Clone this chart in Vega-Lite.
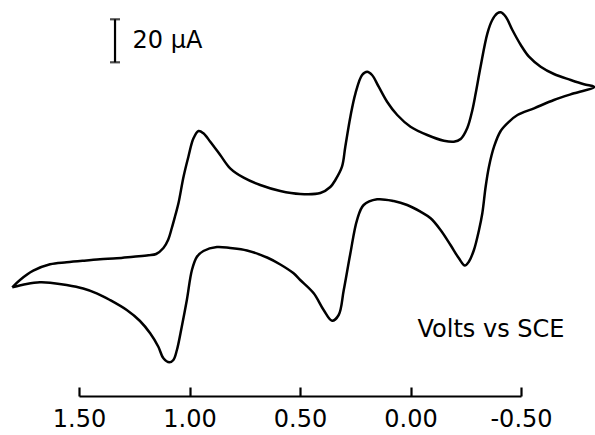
{
  "$schema": "https://vega.github.io/schema/vega-lite/v6.json",
  "width": 442,
  "height": 396,
  "autosize": {"type": "none"},
  "padding": {"left": 79, "top": 0, "right": 74, "bottom": 39},
  "background": "white",
  "config": {"view": {"stroke": null}},
  "datasets": {
    "cv": [
      {"i":1,"V":1.802,"I":-8.05},{"i":2,"V":1.767,"I":-4.65},{"i":3,"V":1.707,"I":-0.33},{"i":4,"V":1.631,"I":2.65},
      {"i":5,"V":1.556,"I":3.58},{"i":6,"V":1.481,"I":4.32},{"i":7,"V":1.405,"I":4.98},{"i":8,"V":1.329,"I":5.44},
      {"i":9,"V":1.254,"I":6.18},{"i":10,"V":1.186,"I":6.84},{"i":11,"V":1.151,"I":7.44},{"i":12,"V":1.118,"I":10.23},
      {"i":13,"V":1.097,"I":13.95},{"i":14,"V":1.080,"I":19.53},{"i":15,"V":1.065,"I":25.11},{"i":16,"V":1.050,"I":31.02},
      {"i":17,"V":1.027,"I":43.39},{"i":18,"V":1.005,"I":52.70},{"i":19,"V":0.982,"I":61.25},{"i":20,"V":0.959,"I":64.65},
      {"i":21,"V":0.937,"I":63.58},{"i":22,"V":0.906,"I":59.67},{"i":23,"V":0.861,"I":53.49},{"i":24,"V":0.816,"I":47.30},
      {"i":25,"V":0.755,"I":42.93},{"i":26,"V":0.680,"I":39.53},{"i":27,"V":0.589,"I":36.74},{"i":28,"V":0.499,"I":35.35},
      {"i":29,"V":0.408,"I":35.81},{"i":30,"V":0.363,"I":38.60},{"i":31,"V":0.340,"I":41.86},{"i":32,"V":0.310,"I":48.05},
      {"i":33,"V":0.295,"I":57.35},{"i":34,"V":0.272,"I":71.30},{"i":35,"V":0.249,"I":82.18},{"i":36,"V":0.219,"I":90.70},
      {"i":37,"V":0.196,"I":92.23},{"i":38,"V":0.174,"I":90.70},{"i":39,"V":0.144,"I":85.25},{"i":40,"V":0.106,"I":78.28},
      {"i":41,"V":0.060,"I":72.09},{"i":42,"V":0.000,"I":66.65},{"i":43,"V":-0.076,"I":62.79},{"i":44,"V":-0.151,"I":60.14},
      {"i":45,"V":-0.196,"I":59.67},{"i":46,"V":-0.227,"I":60.93},{"i":47,"V":-0.257,"I":66.05},{"i":48,"V":-0.280,"I":74.42},
      {"i":49,"V":-0.295,"I":82.18},{"i":50,"V":-0.317,"I":94.56},{"i":51,"V":-0.348,"I":110.09},{"i":52,"V":-0.370,"I":116.28},
      {"i":53,"V":-0.393,"I":119.39},{"i":54,"V":-0.408,"I":119.86},{"i":55,"V":-0.431,"I":117.81},{"i":56,"V":-0.461,"I":111.63},
      {"i":57,"V":-0.499,"I":104.65},{"i":58,"V":-0.536,"I":99.21},{"i":59,"V":-0.589,"I":94.56},{"i":60,"V":-0.649,"I":91.16},
      {"i":61,"V":-0.725,"I":88.37},{"i":62,"V":-0.785,"I":86.37},{"i":63,"V":-0.832,"I":85.11},{"i":64,"V":-0.740,"I":82.18},
      {"i":65,"V":-0.649,"I":79.07},{"i":66,"V":-0.559,"I":75.21},{"i":67,"V":-0.484,"I":72.09},{"i":68,"V":-0.446,"I":68.98},
      {"i":69,"V":-0.408,"I":64.65},{"i":70,"V":-0.378,"I":57.35},{"i":71,"V":-0.355,"I":48.05},{"i":72,"V":-0.340,"I":38.74},
      {"i":73,"V":-0.325,"I":26.37},{"i":74,"V":-0.310,"I":18.60},{"i":75,"V":-0.287,"I":9.30},{"i":76,"V":-0.264,"I":3.86},
      {"i":77,"V":-0.246,"I":2.09},{"i":78,"V":-0.219,"I":5.44},{"i":79,"V":-0.181,"I":11.63},{"i":80,"V":-0.136,"I":18.60},
      {"i":81,"V":-0.091,"I":24.05},{"i":82,"V":-0.045,"I":27.12},{"i":83,"V":0.015,"I":30.23},{"i":84,"V":0.076,"I":32.09},
      {"i":85,"V":0.151,"I":32.88},{"i":86,"V":0.212,"I":30.23},{"i":87,"V":0.242,"I":23.25},{"i":88,"V":0.272,"I":7.77},
      {"i":89,"V":0.302,"I":-9.30},{"i":90,"V":0.325,"I":-20.93},{"i":91,"V":0.355,"I":-23.58},{"i":92,"V":0.393,"I":-18.61},
      {"i":93,"V":0.438,"I":-10.84},{"i":94,"V":0.499,"I":-4.65},{"i":95,"V":0.529,"I":-1.54},{"i":96,"V":0.589,"I":2.56},
      {"i":97,"V":0.649,"I":5.81},{"i":98,"V":0.740,"I":9.07},{"i":99,"V":0.816,"I":10.23},{"i":100,"V":0.876,"I":10.70},
      {"i":101,"V":0.937,"I":8.84},{"i":102,"V":0.967,"I":6.05},{"i":103,"V":0.989,"I":0.0},{"i":104,"V":1.012,"I":-13.95},
      {"i":105,"V":1.035,"I":-26.37},{"i":106,"V":1.057,"I":-37.21},{"i":107,"V":1.073,"I":-41.86},{"i":108,"V":1.091,"I":-42.93},
      {"i":109,"V":1.118,"I":-41.07},{"i":110,"V":1.141,"I":-35.68},{"i":111,"V":1.178,"I":-29.44},{"i":112,"V":1.224,"I":-23.72},
      {"i":113,"V":1.284,"I":-18.61},{"i":114,"V":1.360,"I":-13.95},{"i":115,"V":1.420,"I":-10.84},{"i":116,"V":1.481,"I":-8.61},
      {"i":117,"V":1.556,"I":-6.98},{"i":118,"V":1.631,"I":-5.91},{"i":119,"V":1.677,"I":-5.72},{"i":120,"V":1.737,"I":-6.51},
      {"i":121,"V":1.802,"I":-8.05}
    ],
    "bar": [{"V": 1.337, "I": 96.6, "I2": 116.6}],
    "barEnds": [{"V": 1.337, "I": 96.6}, {"V": 1.337, "I": 116.6}],
    "notes": [
      {"V": 1.0996, "I": 106.7, "text": "20 µA"},
      {"V": -0.364, "I": -27.7, "text": "Volts vs SCE"}
    ]
  },
  "encoding": {
    "x": {
      "field": "V", "type": "quantitative",
      "scale": {"domain": [-0.5, 1.5], "reverse": true, "nice": false, "zero": false},
      "axis": {
        "values": [1.5, 1.0, 0.5, 0.0, -0.5],
        "labelExpr": "datum.value < 0 ? '-' + format(-datum.value, '.2f') : format(datum.value, '.2f')",
        "title": null, "grid": false,
        "domainColor": "black", "domainWidth": 2.2,
        "tickColor": "black", "tickWidth": 2.2, "tickSize": -9,
        "labelFont": "DejaVu Sans", "labelFontSize": 24, "labelColor": "black",
        "labelBaseline": "top", "labelPadding": 20, "labelFlush": false, "labelOverlap": false
      }
    },
    "y": {
      "field": "I", "type": "quantitative",
      "scale": {"domain": [-58.6, 125.58], "nice": false, "zero": false},
      "axis": null
    }
  },
  "layer": [
    {
      "data": {"name": "cv"},
      "mark": {"type": "line", "color": "black", "strokeWidth": 2.5, "interpolate": "catmull-rom", "clip": false},
      "encoding": {"order": {"field": "i", "type": "quantitative"}}
    },
    {
      "data": {"name": "bar"},
      "mark": {"type": "rule", "color": "black", "strokeWidth": 2.2},
      "encoding": {"y2": {"field": "I2"}}
    },
    {
      "data": {"name": "barEnds"},
      "mark": {"type": "tick", "orient": "horizontal", "color": "black", "size": 10, "thickness": 2.2},
      "encoding": {}
    },
    {
      "data": {"name": "notes"},
      "mark": {"type": "text", "font": "DejaVu Sans", "fontSize": 24, "color": "black", "align": "center", "baseline": "middle"},
      "encoding": {"text": {"field": "text"}}
    }
  ]
}
